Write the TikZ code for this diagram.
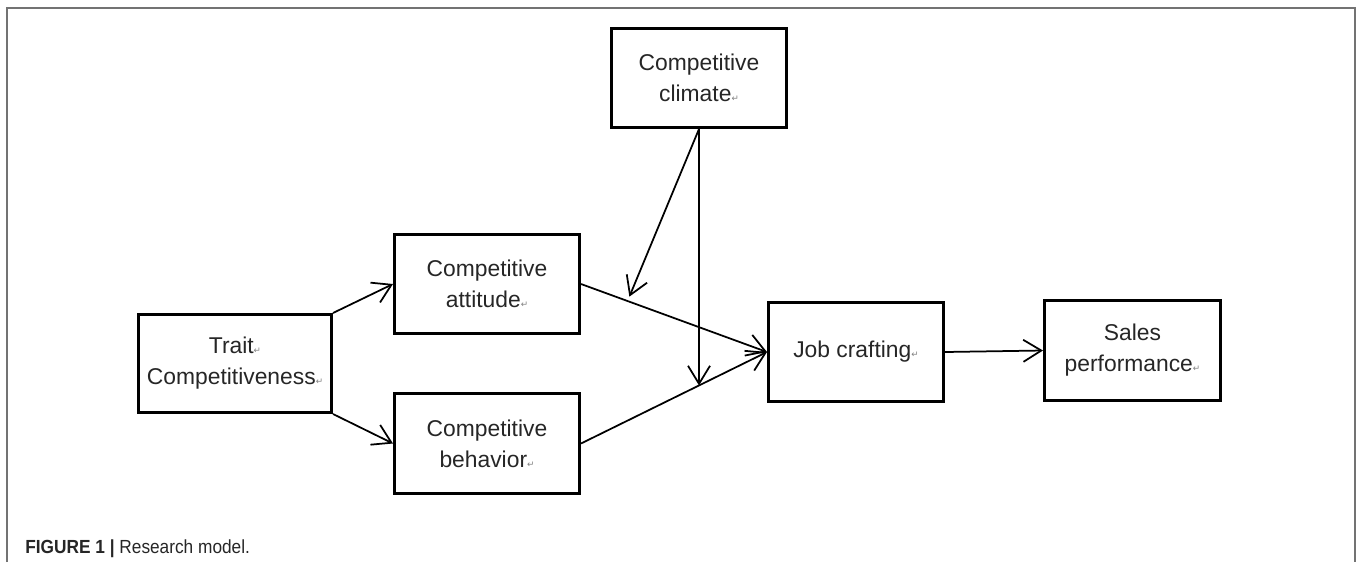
\documentclass[tikz,border=0pt]{standalone}
\usepackage{fontspec}
\usepackage{graphicx}
\setmainfont{Liberation Sans}
\newfontfamily\markfont{DejaVu Sans}
\usetikzlibrary{arrows.meta,calc}
\newcommand{\parmark}{{\markfont\fontsize{5}{5}\selectfont\textcolor{gray}{↵}}}

\begin{document}
\begin{tikzpicture}[x=0.2mm, y=-0.2mm,
    modelbox/.style={draw, line width=0.6mm, inner sep=0pt, align=center,
      text=black!85, font=\fontsize{13}{17.6}\selectfont},
    >={Straight Barb[length=3.6mm, width=4.4mm]}]
    \useasboundingbox (0,0) rectangle (1357,562);
    \path[draw, gray!90!black, line width=0.3mm] (7,562) -- (7,8) -- (1355,8) -- (1355,562);

    \node[modelbox, minimum width=38.6mm, minimum height=19.6mm] (trait) at (235,363.5) {Trait\parmark\\Competitiveness\parmark};
    \node[modelbox, minimum width=37mm, minimum height=19.8mm] (att) at (487,284) {Competitive\\attitude\parmark};
    \node[modelbox, minimum width=37mm, minimum height=20mm] (beh) at (487,443.5) {Competitive\\behavior\parmark};
    \node[modelbox, minimum width=35mm, minimum height=19.8mm] (clim) at (699,78) {Competitive\\climate\parmark};
    \node[modelbox, minimum width=35mm, minimum height=19.8mm] (job) at (856,352) {Job crafting\parmark};
    \node[modelbox, minimum width=35.2mm, minimum height=20mm] (sales) at (1132.5,350.5) {Sales\\performance\parmark};

    \coordinate (onatt) at ($(att.east)!0.26!(job.west)+(0,-5)$);
    \coordinate (onbeh) at (intersection of clim.south--clim.north and beh.east--job.west);

    \foreach \a/\b in {trait.north east/att.west, trait.south east/beh.west,
      att.east/job.west, beh.east/job.west, job.east/sales.west,
      clim.south/onatt, clim.south/onbeh}
      \path[draw, ->, line width=0.35mm] (\a) -- (\b);

    \node[anchor=base west, text=black!85, inner sep=0pt, font=\fontsize{10.8}{12}\selectfont] (caption) at (25,553)
      {\scalebox{0.91}[1]{\textbf{FIGURE 1} \textbf{|} Research model.}};
  \end{tikzpicture}
\end{document}
